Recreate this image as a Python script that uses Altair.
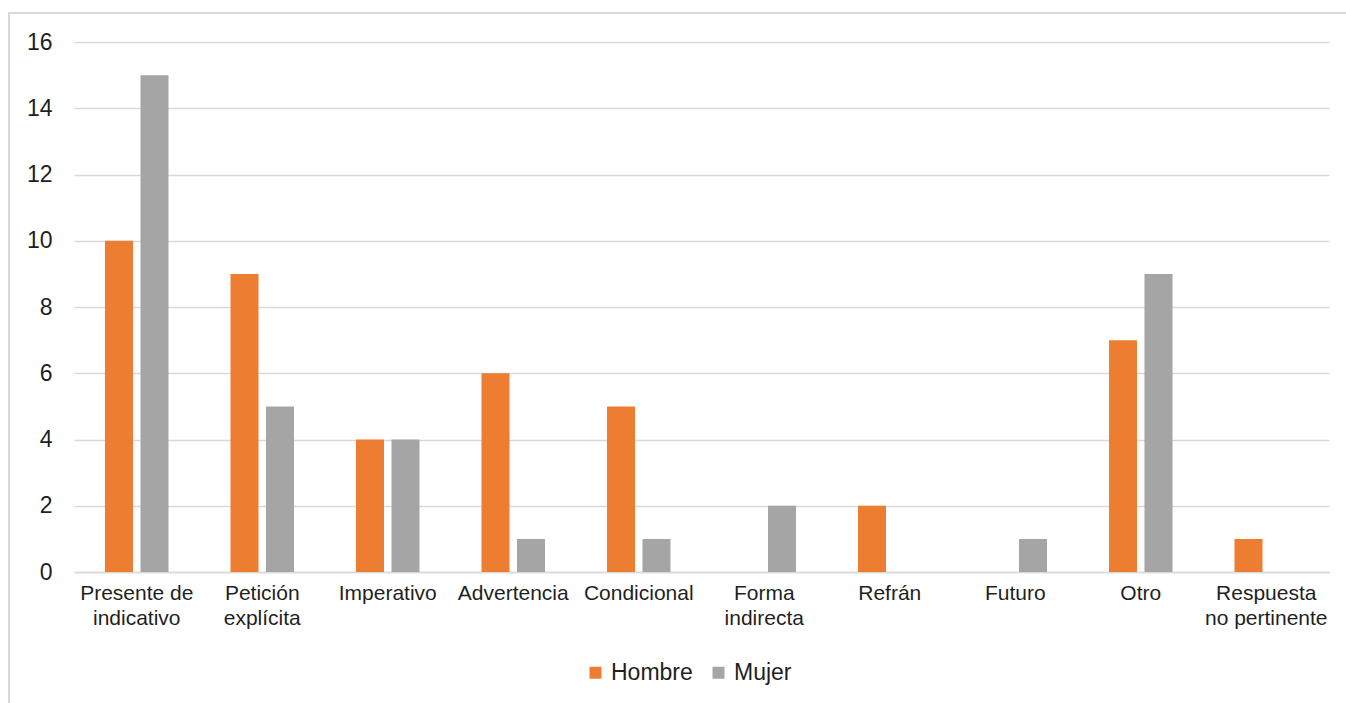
import altair as alt
import pandas as pd

# Categories (multi-line labels use "\n") and counts per group
categorias = [
    "Presente de\nindicativo",
    "Petición\nexplícita",
    "Imperativo",
    "Advertencia",
    "Condicional",
    "Forma\nindirecta",
    "Refrán",
    "Futuro",
    "Otro",
    "Respuesta\nno pertinente",
]
hombre = [10, 9, 4, 6, 5, 0, 2, 0, 7, 1]
mujer = [15, 5, 4, 1, 1, 2, 0, 1, 9, 0]
series = ["Hombre", "Mujer"]
colores = ["#ED7D31", "#A5A5A5"]
y_ticks = [0, 2, 4, 6, 8, 10, 12, 14, 16]

rows = []
for cat, h, m in zip(categorias, hombre, mujer):
    rows.append({"categoria": cat, "serie": "Hombre", "valor": h})
    rows.append({"categoria": cat, "serie": "Mujer", "valor": m})
df = pd.DataFrame(rows)

FONT = "Liberation Sans"
TEXT = "#1F1F1F"
GRID = "#D9D9D9"

bars = alt.Chart(df).mark_bar().encode(
    x=alt.X(
        "categoria:N",
        sort=categorias,
        scale=alt.Scale(paddingInner=0.494, paddingOuter=0.247),
        axis=alt.Axis(
            title=None,
            labelAngle=0,
            labelExpr="split(datum.label, '\\n')",
            ticks=False,
            domainColor=GRID,
            domainWidth=1.5,
            labelFont=FONT,
            labelFontSize=21,
            labelColor=TEXT,
            labelPadding=10,
            labelLineHeight=25,
            labelOverlap=False,
            labelLimit=300,
        ),
    ),
    xOffset=alt.XOffset(
        "serie:N",
        sort=series,
        scale=alt.Scale(paddingInner=0.211, paddingOuter=0),
    ),
    y=alt.Y(
        "valor:Q",
        scale=alt.Scale(domain=[0, 16], nice=False),
        axis=alt.Axis(
            title=None,
            values=y_ticks,
            domain=False,
            ticks=False,
            gridColor=GRID,
            gridWidth=1.5,
            labelFont=FONT,
            labelFontSize=23,
            labelColor=TEXT,
            labelPadding=22,
        ),
    ),
    color=alt.Color(
        "serie:N",
        sort=series,
        scale=alt.Scale(domain=series, range=colores),
        legend=alt.Legend(
            title=None,
            orient="none",
            legendX=510,
            legendY=619,
            direction="horizontal",
            symbolType="square",
            symbolSize=144,
            symbolStrokeWidth=0,
            labelFont=FONT,
            labelFontSize=23,
            labelColor=TEXT,
            labelOffset=4,
            columnPadding=14,
        ),
    ),
)

# Light outer frame around the chart area
frame = alt.Chart(pd.DataFrame({"k": [0]})).mark_rect(
    fillOpacity=0, stroke=GRID, strokeWidth=2
).encode(
    x=alt.value(-65),
    x2=alt.value(1300),
    y=alt.value(-29),
    y2=alt.value(700),
)

chart = (
    alt.layer(frame, bars)
    .properties(
        width=1255,
        height=530,
        autosize=alt.AutoSizeParams(type="none"),
        padding={"left": 74, "top": 42, "right": 17, "bottom": 131},
        background="white",
    )
    .configure_view(stroke=None)
)

chart.save("out.html", embed_options={"renderer": "svg", "actions": False})
